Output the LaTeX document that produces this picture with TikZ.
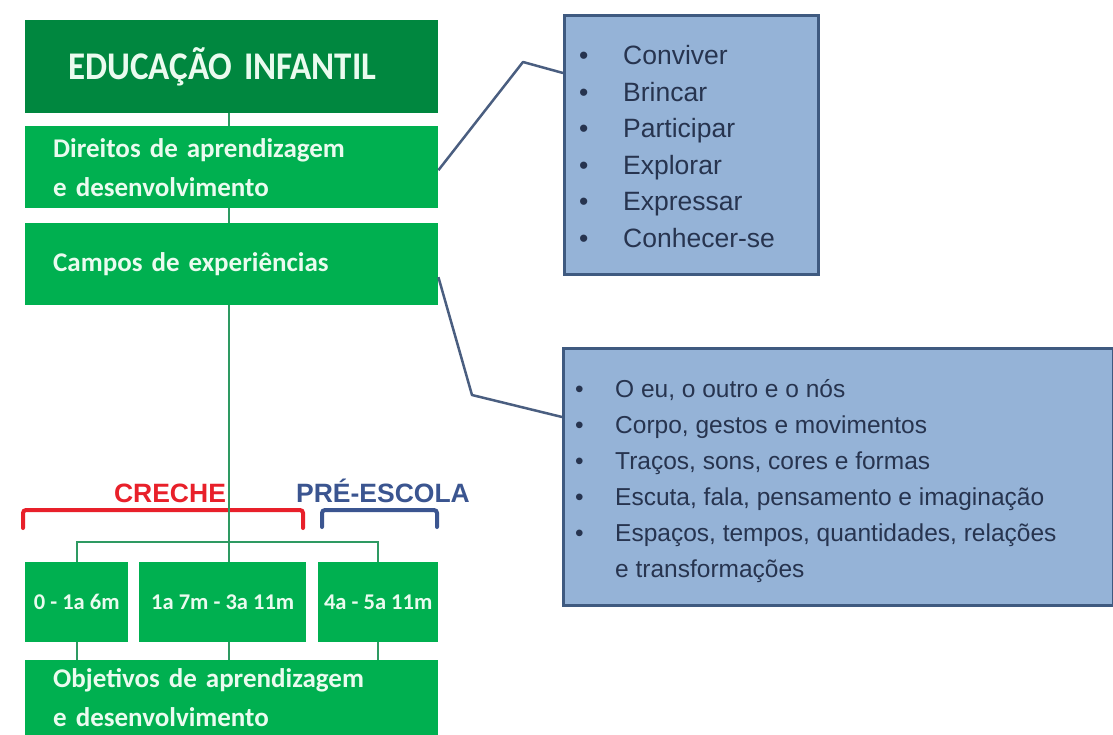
\documentclass[tikz,border=0pt]{standalone}
\usepackage{fontspec}
\setmainfont{Liberation Sans}
\newfontfamily\carl{Carlito}
\definecolor{gdark}{HTML}{00873F}
\definecolor{gmain}{HTML}{00B050}
\definecolor{gline}{HTML}{2E9A62}
\definecolor{gtext}{HTML}{EAFBEF}
\definecolor{bfill}{HTML}{95B3D7}
\definecolor{bdraw}{HTML}{3F5A80}
\definecolor{btext}{HTML}{27344F}
\definecolor{bline}{HTML}{4A5E80}
\definecolor{cred}{HTML}{E8202A}
\definecolor{cblue}{HTML}{3B5590}
\tikzset{
  gbox/.style={fill=gmain, draw=none, anchor=north west, inner ysep=0pt, text=gtext,
    font=\carl\bfseries\fontsize{27}{39}\selectfont},
  leftbox/.style={gbox, inner xsep=28pt, text width=357pt, align=left, minimum width=413pt},
  agebox/.style={gbox, inner xsep=0pt, minimum height=80pt, font=\carl\bfseries\fontsize{22.5}{27}\selectfont},
  bbox/.style={fill=bfill, draw=bdraw, line width=3pt, anchor=north west, inner sep=0pt},
  blist/.style={anchor=base west, inner sep=0pt, text=btext, font=\fontsize{26.5}{36.5}\selectfont},
  conn/.style={draw=bline, line width=2.5pt, line join=round},
  gconn/.style={draw=gline, line width=2.4pt},
  brack/.style={line width=4pt, rounded corners=3pt, line cap=round},
  lab/.style={inner sep=0pt, font=\bfseries\fontsize{26.5}{30}\selectfont, anchor=base}
}
\begin{document}
\begin{tikzpicture}[x=1pt,y=-1pt]
\useasboundingbox[fill=white] (0,0) rectangle (1113,735);

% green column
\node[gbox, fill=gdark, minimum width=413pt, minimum height=93pt, inner xsep=43pt, text width=327pt, align=left,
  font=\carl\bfseries\fontsize{35}{40}\selectfont] (top) at (25,20) {\scalebox{1}[1.12]{EDUCAÇÃO INFANTIL}};
\node[leftbox, minimum height=82pt] (dir) at (25,126) {Direitos de aprendizagem\\e desenvolvimento};
\node[leftbox, minimum height=82pt] (camp) at (25,223) {Campos de experiências};

\node[agebox, minimum width=103pt] (age1) at (25,562) {0 - 1a 6m};
\node[agebox, minimum width=167pt] (age2) at (139,562) {1a 7m - 3a 11m};
\node[agebox, minimum width=120pt] (age3) at (318,562) {4a - 5a 11m};
\node[leftbox, minimum height=75pt] (obj) at (25,660) {Objetivos de aprendizagem\\e desenvolvimento};

% labels and brackets
\node[lab, text=cred] (creche) at (170,502) {CRECHE};
\node[lab, text=cblue] (pre) at (383,502) {PRÉ-ESCOLA};
\coordinate (rb1) at (23,528);
\coordinate (rb2) at (303,528);
\coordinate (bb1) at (322,527);
\coordinate (bb2) at (437,527);
\draw[brack, draw=cred] (rb1) -- ++(0,-18) -| (rb2);
\draw[brack, draw=cblue] (bb1) -- ++(0,-17) -| (bb2);

% green connectors
\coordinate (tx) at (229,0);
\coordinate (hy) at (229,542);
\draw[gconn] (tx |- top.south) -- (tx |- dir.north);
\draw[gconn] (tx |- dir.south) -- (tx |- camp.north);
\draw[gconn] (tx |- camp.south) -- (tx |- age2.north);
\draw[gconn] (age1.north) |- (hy) -| (age3.north);
\draw[gconn] (age1.south) -- (age1.south |- obj.north);
\draw[gconn] (tx |- age2.south) -- (tx |- obj.north);
\draw[gconn] (age3.south) -- (age3.south |- obj.north);

% blue boxes
\node[bbox, minimum width=254pt, minimum height=259pt] (b1) at (563,14) {};
\node[blist] (l1) at (579,65) {\begin{tabular}[t]{@{}p{44pt}@{}l@{}}
\textbullet & Conviver\\
\textbullet & Brincar\\
\textbullet & Participar\\
\textbullet & Explorar\\
\textbullet & Expressar\\
\textbullet & Conhecer-se
\end{tabular}};
\node[bbox, minimum width=550pt, minimum height=257pt] (b2) at (562,347) {};
\node[blist, font=\fontsize{24.5}{36}\selectfont] (l2) at (575,397) {\begin{tabular}[t]{@{}p{40pt}@{}l@{}}
\textbullet & O eu, o outro e o nós\\
\textbullet & Corpo, gestos e movimentos\\
\textbullet & Traços, sons, cores e formas\\
\textbullet & Escuta, fala, pensamento e imaginação\\
\textbullet & Espaços, tempos, quantidades, relações\\
 & e transformações
\end{tabular}};

% blue connectors
\coordinate (k1) at (523,62);
\coordinate (k2) at (472,395);
\draw[conn] ([yshift=-3pt]dir.east) -- (k1) -- ([yshift=-59pt]b1.north west);
\draw[conn] ([yshift=-13pt]camp.east) -- (k2) -- ([yshift=-70pt]b2.north west);
\end{tikzpicture}
\end{document}
